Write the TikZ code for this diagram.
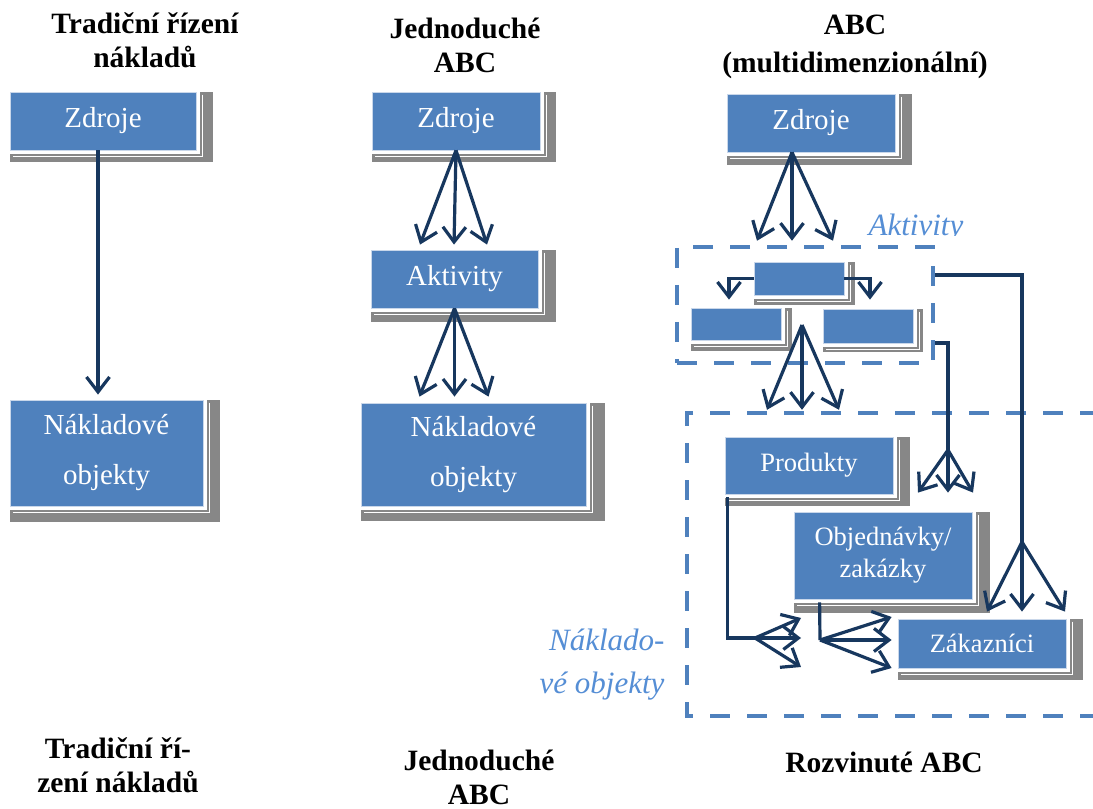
\documentclass[tikz,border=0pt]{standalone}
\usepackage{fontspec}
\setmainfont{Liberation Serif}
\usetikzlibrary{arrows.meta,positioning,calc,backgrounds}
\definecolor{boxblue}{HTML}{4F81BD}
\definecolor{shgrey}{HTML}{878787}
\definecolor{navy}{HTML}{17375E}
\definecolor{soft}{HTML}{558ED5}
\definecolor{rim}{HTML}{C9D7EA}
\tikzset{box/.style={draw=rim,line width=0.8pt,fill=boxblue,text=white,align=center,inner sep=0pt,font=\fontsize{29}{34}\selectfont},small/.style={box,font=\fontsize{26.5}{32}\selectfont},title/.style={align=center,font=\bfseries\fontsize{29.5}{34}\selectfont},note/.style={text=soft,font=\itshape\fontsize{31}{43}\selectfont},flow/.style={-{Straight Barb[length=15pt,width=23pt]},line width=3.2pt,draw=navy},grp/.style={draw=boxblue,line width=4.5pt,dash pattern=on 20pt off 17pt}}
\begin{document}
\begin{tikzpicture}[x=1pt,y=1pt]
\useasboundingbox (0,0) rectangle (1093,809);
\node[title] (t1) at (145,769) {Tradiční řízení\\nákladů};
\node[title] (t2) at (465,764) {Jednoduché\\ABC};
\node[title,font=\bfseries\fontsize{29.5}{38}\selectfont] (t3) at (855,762) {ABC\\(multidimenzionální)};
\node[title] (b1) at (118,44) {Tradiční ří-\\zení nákladů};
\node[title] (b2) at (479,32) {Jednoduché\\ABC};
\node[title] (b3) at (884,47) {Rozvinuté ABC};
\foreach \n/\xx/\yy/\ww/\hh/\txt in {src1/103/688/186/58/Zdroje,src2/456/688/168/58/Zdroje,act2/454.5/530/167/58/Aktivity,src3/811/686/168/58/Zdroje}{\node[box,minimum width=\ww pt,minimum height=\hh pt] (\n) at (\xx,\yy) {\txt};}
\node[box,minimum width=193pt,minimum height=106pt,font=\fontsize{29}{50}\selectfont] (cost1) at (106.5,356) {Nákladové\\objekty};
\node[box,minimum width=225pt,minimum height=103pt,font=\fontsize{29}{50}\selectfont] (cost2) at (473.5,354.5) {Nákladové\\objekty};
\node[grp,minimum width=256pt,minimum height=116pt] (grpact) at (805,504) {};
\foreach \n/\xx/\yy/\hh in {act3/799/530.5/33,act3l/736/485/32,act3r/868/483/34}{\node[box,minimum width=90pt,minimum height=\hh pt] (\n) at (\xx,\yy) {};}
\node[minimum width=413pt,minimum height=303pt,inner sep=0pt] (grpcost) at (893.5,244.5) {};
\draw[grp] (grpcost.north east) -- (grpcost.north west) -- (grpcost.south west) -- (grpcost.south east);
\node[small,minimum width=168pt,minimum height=57pt] (prod) at (809,343.5) {Produkty};
\node[small,minimum width=178pt,minimum height=87pt] (ord) at (883,253.5) {Objednávky/\\zakázky};
\node[small,minimum width=168pt,minimum height=49pt] (cust) at (982,165.5) {Zákazníci};
\begin{scope}
\clip (850,573.5) rectangle (990,620);
\node[note,anchor=base] (lbact) at (916,573) {Aktivity};
\end{scope}
\node[note,anchor=east,align=right] (lbcost) at (668,144) {Náklado-\\vé objekty};
\begin{scope}[on background layer]
\fill[white] (0,0) rectangle (1093,809);
\foreach \n/\dx/\dy in {src1/17/12,cost1/17/16,src2/16/12,act2/18/14,cost2/19/15,src3/17/13,act3/11/10,act3l/11/11,act3r/10/9,prod/17/12,ord/18/14,cust/17/12}{
\fill[shgrey] (\n.north west) rectangle ([shift={(\dx,-\dy)}]\n.south east);
\fill[white] (\n.north west) rectangle ([shift={(4,-4)}]\n.south east);
\draw[white,line width=0.6pt] ([shift={(6,-3)}]\n.north east) |- ([shift={(3,-6)}]\n.south west);}
\end{scope}
\draw[flow,shorten >=5pt] ([xshift=-5pt]src1.south) -- ([xshift=-5pt]src1.south |- cost1.north);
\foreach \d in {-36,-2,31}{\draw[flow] (src2.south) -- ([xshift=\d pt,yshift=5pt]src2.south |- act2.north);}
\foreach \d in {-35,0,34}{\draw[flow] (act2.south) -- ([xshift=\d pt,yshift=6pt]act2.south |- cost2.north);}
\coordinate (top3) at ([xshift=-19pt]src3.south);
\foreach \d in {-35,0,41}{\draw[flow] (top3) -- ([xshift=\d pt,yshift=4pt]top3 |- grpact.north);}
\draw[flow,line join=miter] (act3.west) -| ([xshift=-7pt,yshift=8pt]act3l.north);
\draw[flow,line join=miter] (act3.east) -| ([xshift=2pt,yshift=9pt]act3r.north);
\coordinate (mid3) at ($(act3l.east)!0.5!(act3r.west)$);
\foreach \d in {-35,0,37}{\draw[flow] (mid3) -- ([xshift=\d pt,yshift=3pt]mid3 |- grpcost.north);}
\coordinate (fork1) at (1022,267);
\draw[flow,-,line join=miter] ([yshift=30pt]grpact.east) -| (fork1);
\foreach \d in {-35,0,43}{\draw[flow] (fork1) -- ([xshift=\d pt,yshift=7pt]fork1 |- cust.north);}
\coordinate (fork2) at (948,359);
\draw[flow,-,line join=miter] ([yshift=-38pt]grpact.east) -| (fork2);
\foreach \d in {-30,0,25}{\draw[flow] (fork2) -- ([xshift=\d pt,yshift=19pt]fork2 |- ord.north);}
\coordinate (fork3) at (755,171);
\draw[flow,-,line join=miter] ([xshift=3pt,yshift=-3pt]prod.south west) |- (fork3);
\foreach \dy in {20,0,-29}{\draw[flow] (fork3) -- ++(46,\dy);}
\coordinate (fork4) at (820,169);
\draw[flow,-] ([xshift=26pt,yshift=-3pt]ord.south west) -- (fork4);
\foreach \dy in {23,0,-28}{\draw[flow] (fork4) -- ([xshift=-6pt,yshift=\dy pt]fork4 -| cust.west);}
\end{tikzpicture}
\end{document}
